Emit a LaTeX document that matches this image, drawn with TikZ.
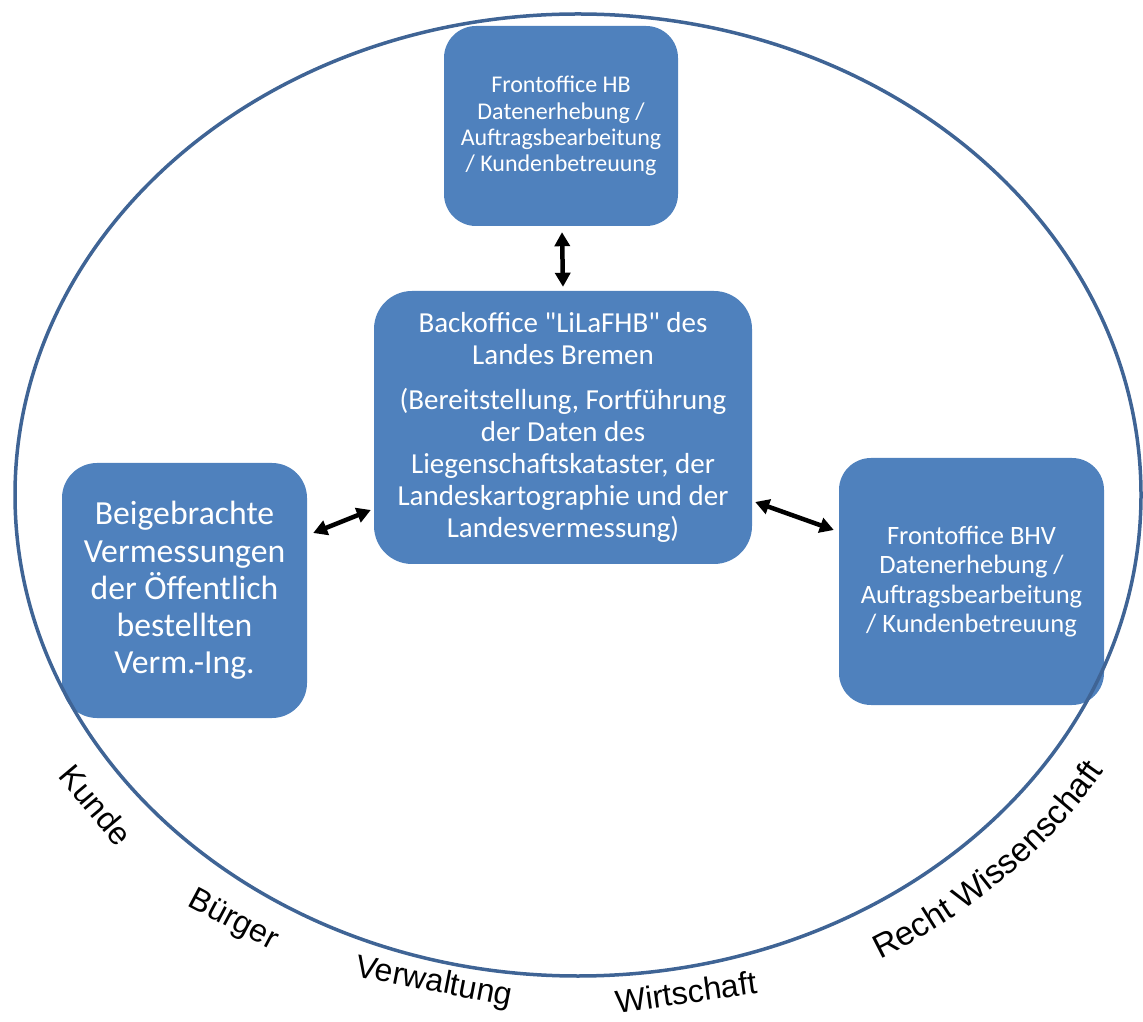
\documentclass[tikz,border=0pt]{standalone}
\usepackage{fontspec}
\setmainfont{Carlito}
\newfontfamily\boxfont{Carlito}
\newfontfamily\labfont{Liberation Sans}
\usetikzlibrary{arrows.meta,calc,decorations.text}
\definecolor{boxblue}{HTML}{4F81BD}
\definecolor{ringblue}{HTML}{3F6495}
\begin{document}
\begin{tikzpicture}[x=1pt,y=1pt,
  box/.style={fill=boxblue, text=white, align=center, inner sep=0pt},
  lab/.style={font=\labfont\fontsize{32}{36}\selectfont, text=black, inner sep=0pt},
  arr/.style={line width=4.5pt, {Triangle[length=14pt,width=15pt]}-{Triangle[length=14pt,width=15pt]}}]
\useasboundingbox (0,0) rectangle (1143,1021);

\node[box, minimum width=234pt, minimum height=200pt, rounded corners=32pt,
  font=\boxfont\fontsize{24}{26.4}\selectfont] (hb) at (561,895)
  {Frontoffice HB\\Datenerhebung /\\Auftragsbearbeitung\\/ Kundenbetreuung};
\node[box, minimum width=378pt, minimum height=273pt, rounded corners=38pt,
  font=\boxfont\fontsize{29}{32}\selectfont] (bo) at (563,593.5)
  {Backoffice "LiLaFHB" des\\Landes Bremen\\[13pt](Bereitstellung, Fortführung\\der Daten des\\Liegenschaftskataster, der\\Landeskartographie und der\\Landesvermessung)};
\node[box, minimum width=245pt, minimum height=255pt, rounded corners=35pt,
  font=\boxfont\fontsize{33.7}{37.3}\selectfont] (lb) at (184.5,430.5)
  {Beigebrachte\\Vermessungen\\der Öffentlich\\bestellten\\Verm.-Ing.};
\node[box, minimum width=265pt, minimum height=247pt, rounded corners=32pt,
  font=\boxfont\fontsize{26.5}{29.3}\selectfont] (bhv) at (971.5,439.5)
  {Frontoffice BHV\\Datenerhebung /\\Auftragsbearbeitung\\/ Kundenbetreuung};

\draw[arr] ($(hb.south)+(1,-6)$) -- ($(bo.north)+(0,4)$);
\draw[arr] ($(lb.east)+(6,57.5)$) -- ($(bo.west)+(-3,-82.5)$);
\draw[arr] ($(bo.east)+(3,-74.5)$) -- ($(bhv.west)+(-5,51.5)$);

\draw[ringblue, line width=3.5pt] (578,526) ellipse[x radius=563, y radius=481];

\node[lab, rotate=-50] (kunde) at (96,216) {Kunde};
\node[lab, rotate=-28] (buerger) at (233,100) {Bürger};
\node[lab, rotate=-11] (verw) at (434,38) {Verwaltung};
\node[lab, rotate=8] (wirt) at (686,29) {Wirtschaft};
\path[decorate, decoration={text along path, text align=center,
  text={|\labfont\fontsize{33.5}{36}\selectfont|Recht Wissenschaft}}]
  (578,526) ++(-77:615 and 533) arc[start angle=-77, end angle=-13, x radius=615, y radius=533];
\end{tikzpicture}
\end{document}
